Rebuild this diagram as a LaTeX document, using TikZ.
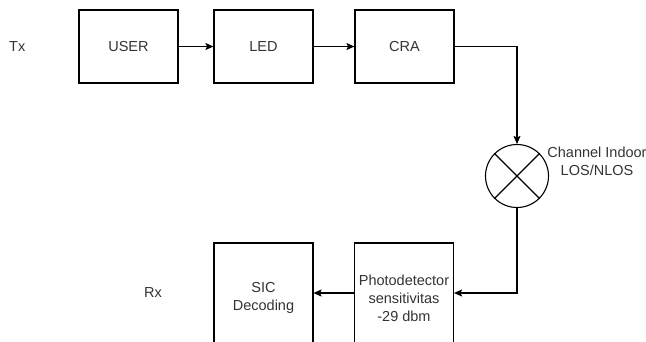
\documentclass[tikz,border=0pt]{standalone}
\usepackage{fontspec}
\setmainfont{Liberation Sans}
\usetikzlibrary{arrows.meta}
\begin{document}
\begin{tikzpicture}[x=1pt,y=-1pt,
  blk/.style={draw, line width=1.1pt, minimum width=99pt, align=center, inner sep=0pt},
  lbl/.style={font=\fontsize{14.5}{18}\selectfont, align=center, inner sep=0pt, text=black!80},
  conn/.style={line width=1.1pt, -{Stealth[length=8pt,width=7pt,inset=1.5pt]}},
  ln/.style={line width=1.1pt}]
\useasboundingbox (0,0) rectangle (646,341);
\begin{scope}
\clip (0,0) rectangle (646,341);
\node[blk, minimum height=73pt, lbl] (user) at (128.5,46.5) {USER};
\node[blk, minimum height=73pt, lbl] (led) at (263.5,46.5) {LED};
\node[blk, minimum height=73pt, lbl] (cra) at (404.5,46.5) {CRA};
\node[draw, circle, line width=1.1pt, minimum size=63pt, inner sep=0pt] (mix) at (517,176) {};
\draw[line width=1.1pt] (mix.north west) -- (mix.south east) (mix.north east) -- (mix.south west);
\node[blk, minimum height=110pt, lbl] (sic) at (263.5,298) {SIC\\Decoding};
\node[blk, minimum height=110pt, lbl] (pd) at (404,298) {Photodetector\\sensitivitas\\-29 dbm};
\end{scope}
\node[lbl, anchor=west] (tx) at (9,46.5) {Tx};
\node[lbl, anchor=west] (rx) at (144,293) {Rx};
\node[lbl] (ch) at (597,161) {Channel Indoor\\LOS/NLOS};
\coordinate (pdin) at (pd.east |- 0,293);
\coordinate (sicin) at (sic.east |- 0,293);
\draw[conn] (user) -- (led);
\draw[conn] (led) -- (cra);
\draw[conn] (cra.east) -| (mix.north);
\draw[conn] (mix.south) |- (pdin);
\draw[conn] (pd.west |- 0,293) -- (sicin);
\end{tikzpicture}
\end{document}
